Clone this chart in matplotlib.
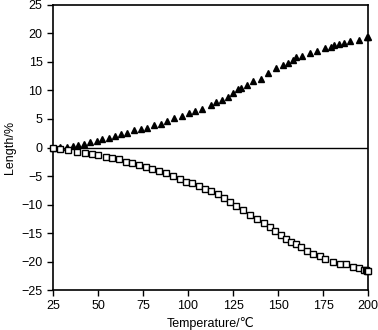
import matplotlib
matplotlib.use("Agg")
import matplotlib.pyplot as plt

plt.rcParams['font.family'] = ['Liberation Sans', 'DejaVu Sans']

# expansion (triangles)
t_up = [25.0, 28.9, 32.7, 36.0, 38.8, 42.1, 45.4, 49.2, 52.5, 56.4, 59.7, 63.0,
        66.3, 70.1, 74.0, 77.3, 81.1, 85.0, 88.3, 92.1, 96.5, 100.4, 104.0, 107.6,
        112.5, 115.8, 118.6, 122.4, 125.2, 127.9, 129.6, 132.9, 136.2, 140.6,
        144.4, 148.8, 152.7, 155.4, 158.2, 159.8, 163.1, 167.5, 171.4, 175.8,
        179.1, 181.3, 184.0, 186.8, 190.1, 195.1, 199.5, 200.0]
len_up = [0.0, 0.05, 0.15, 0.3, 0.5, 0.7, 0.9, 1.2, 1.5, 1.7, 2.0, 2.4,
          2.6, 3.0, 3.3, 3.5, 3.9, 4.2, 4.6, 5.1, 5.5, 6.0, 6.4, 6.8,
          7.4, 7.9, 8.4, 8.9, 9.5, 10.2, 10.5, 10.9, 11.6, 12.1,
          13.0, 13.9, 14.4, 14.9, 15.4, 15.8, 16.1, 16.5, 17.0, 17.4,
          17.7, 17.9, 18.2, 18.4, 18.6, 18.9, 19.3, 19.4]

# shrinkage (open squares)
t_down = [25.0, 28.9, 33.3, 38.2, 42.6, 46.5, 49.8, 54.2, 58.0, 61.9, 65.7,
          69.0, 72.9, 76.7, 80.0, 83.9, 87.7, 91.6, 95.4, 98.8, 102.0, 105.9,
          109.2, 113.0, 116.4, 120.2, 123.5, 126.8, 130.7, 134.5, 138.4, 142.2,
          145.5, 148.3, 151.6, 154.3, 157.1, 159.8, 162.6, 165.9, 169.2, 173.0,
          176.3, 180.2, 184.6, 187.9, 191.8, 195.1, 197.8, 199.0, 199.5, 200.0]
len_down = [0.0, -0.2, -0.35, -0.7, -1.0, -1.2, -1.4, -1.6, -1.8, -2.1, -2.5,
            -2.7, -3.0, -3.4, -3.7, -4.1, -4.5, -5.0, -5.5, -6.0, -6.3, -6.8,
            -7.2, -7.7, -8.2, -8.9, -9.6, -10.2, -11.0, -11.8, -12.5, -13.2,
            -14.0, -14.7, -15.3, -16.0, -16.5, -17.0, -17.5, -18.2, -18.6, -19.1,
            -19.5, -20.0, -20.4, -20.5, -20.9, -21.1, -21.4, -21.5, -21.6, -21.7]

fig = plt.figure(figsize=(3.78, 3.30), dpi=100)
ax = fig.add_axes([0.140, 0.121, 0.834, 0.864])

ax.axhline(0, color='black', linewidth=1.0, zorder=1)
ax.plot(t_up, len_up, linestyle='none', marker='^', markersize=5,
        color='black', clip_on=False, zorder=3)
ax.plot(t_down, len_down, linestyle='none', marker='s', markersize=4,
        markerfacecolor='white', markeredgecolor='black', markeredgewidth=1.0,
        clip_on=False, zorder=3)

ax.set_xlim(25, 200)
ax.set_ylim(-25, 25)
ax.set_xticks([25, 50, 75, 100, 125, 150, 175, 200])
ax.set_yticks(range(-25, 26, 5))
ax.tick_params(direction='out', length=4, width=1, labelsize=9, colors='black')
for s in ax.spines.values():
    s.set_linewidth(1.2)

ax.set_xlabel('Temperature/℃', fontsize=9, labelpad=3)
ax.set_ylabel('Length/%', fontsize=9, labelpad=4)

fig.savefig('out.png', dpi=100)
